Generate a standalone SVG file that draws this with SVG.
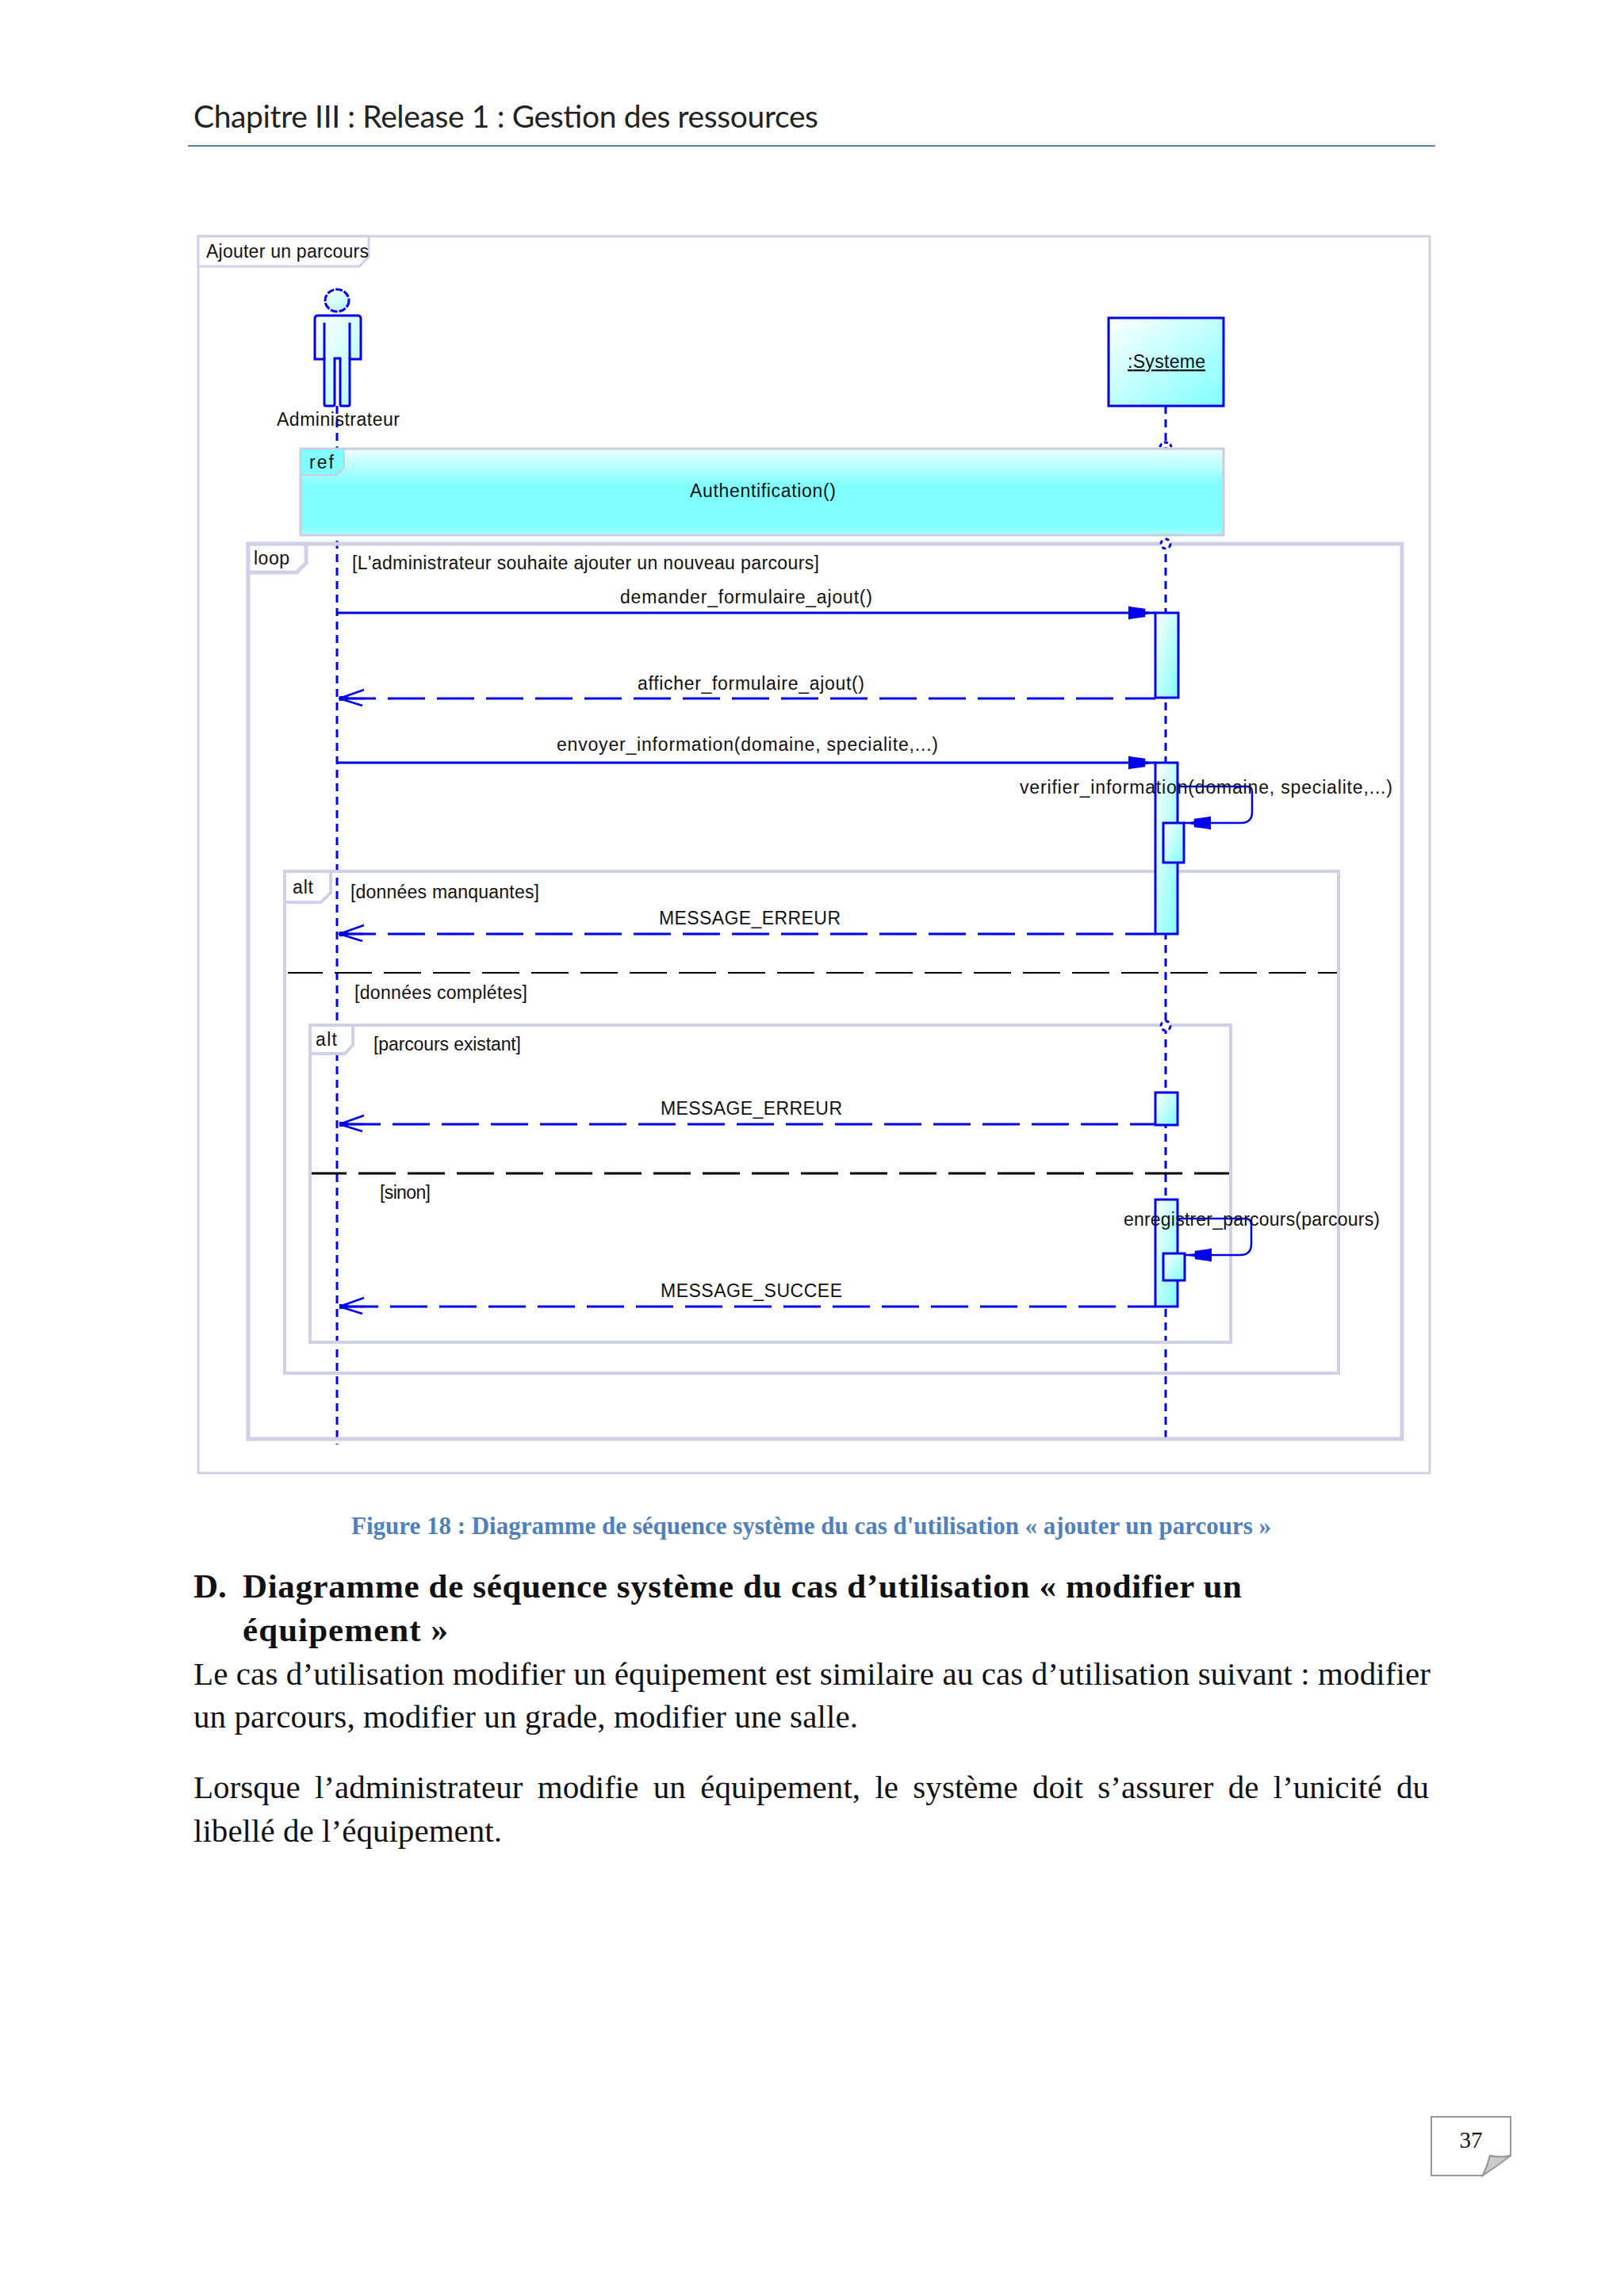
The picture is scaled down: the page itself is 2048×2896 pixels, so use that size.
<svg xmlns="http://www.w3.org/2000/svg" width="2048" height="2896" viewBox="0 0 2048 2896">
<style>
.t{font-family:"Liberation Sans",Arial,sans-serif;font-size:23px;fill:#111}
.fr{fill:none;stroke:#d0d0e8}
.tab{fill:#fff;stroke:#d0d0e8}
.ll{stroke:#0000ee;stroke-width:3;stroke-dasharray:10 7;fill:none}
.act{fill:url(#dg);stroke:#0000ee;stroke-width:3}
.msg{stroke:#0000ee;stroke-width:3;fill:none;marker-end:url(#fa)}
.ret{stroke:#0000ee;stroke-width:3;fill:none;stroke-dasharray:47 15;marker-start:url(#oa)}
.sep{stroke:#000;fill:none;stroke-dasharray:47 15}
.mark{fill:#fff;stroke:#0000ee;stroke-width:3;stroke-dasharray:5 4}
.body{font-family:"Liberation Serif","Times New Roman",serif;font-size:41px;fill:#111}
</style>
<defs>
<linearGradient id="dg" x1="0" y1="0" x2="1" y2="1"><stop offset="0" stop-color="#fff"/><stop offset="1" stop-color="#80ffff"/></linearGradient>
<linearGradient id="ag" x1="0" y1="0" x2="1" y2="1"><stop offset="0" stop-color="#fff"/><stop offset="1" stop-color="#b0ffff"/></linearGradient>
<linearGradient id="vg" x1="0" y1="0" x2="0" y2="1"><stop offset="0" stop-color="#f0ffff"/><stop offset=".42" stop-color="#80ffff"/><stop offset=".9" stop-color="#80ffff"/><stop offset="1" stop-color="#a8ffff"/></linearGradient>
<marker id="fa" markerUnits="userSpaceOnUse" markerWidth="34" markerHeight="18" viewBox="0 0 32 16" refX="32" refY="8" orient="auto"><path d="M0,0L4,1 20,3 20,6 32,8 20,10 20,13 4,15 0,16Z" fill="#0000ee"/></marker>
<marker id="oa" markerUnits="userSpaceOnUse" markerWidth="36" markerHeight="26" viewBox="0 -13 36 26" refX="0" refY="0" orient="auto"><path d="M1,0L32,-11M1,0L30,9M1,0H32" fill="none" stroke="#0000ee" stroke-width="2.5"/><path d="M1,-3H12V3H1Z" fill="#0000ee"/></marker>
</defs>
<rect width="2048" height="2896" fill="#fff"/>

<g id="header">
<text x="244" y="161" font-family="Lato,'Open Sans',sans-serif" font-size="39" fill="#222" textLength="788">Chapitre III : Release 1 : Gestion des ressources</text>
<line x1="237" y1="184" x2="1810" y2="184" stroke="#4f81bd" stroke-width="2"/>
</g>

<g id="frame">
<rect class="fr" x="250" y="298" width="1553" height="1560" stroke-width="3"/>
<path class="tab" stroke-width="3" d="M250,298H465V324L453,336H250Z"/>
<text class="t" x="260" y="325" textLength="205">Ajouter un parcours</text>
</g>

<g id="lifelines">
<line class="ll" x1="425" y1="512" x2="425" y2="1822"/>
<line class="ll" x1="1470" y1="512" x2="1470" y2="1820"/>
</g>

<g id="actor-administrateur">
<ellipse cx="425" cy="379" rx="15" ry="14" fill="url(#ag)" stroke="#0000ee" stroke-width="3" stroke-dasharray="9 2"/>
<path d="M401,398H451Q455,398 455,402V453H441V510Q441,512 439,512H430Q429,512 429,510V452H422V510Q422,512 420,512H411Q409,512 409,510V453H397V402Q397,398 401,398Z" fill="url(#ag)" stroke="#0000ee" stroke-width="3"/>
<path d="M409,407V453M441,407V453" fill="none" stroke="#0000ee" stroke-width="3"/>
<text class="t" x="349" y="537" textLength="155">Administrateur</text>
</g>

<g id="object-systeme">
<rect x="1398" y="401" width="145" height="111" fill="url(#dg)" stroke="#0000ee" stroke-width="3"/>
<text class="t" x="1422" y="464" textLength="98" text-decoration="underline">:Systeme</text>
</g>

<g id="frame-loop">
<rect class="fr" x="313" y="686" width="1455" height="1129" stroke-width="5"/>
<path class="tab" stroke-width="5" d="M313,686H386V710L374,722H313Z"/>
<text class="t" x="320" y="712" textLength="45">loop</text>
<text class="t" x="444" y="718" textLength="589">[L'administrateur souhaite ajouter un nouveau parcours]</text>
</g>

<g id="frame-alt-1">
<rect class="fr" x="359" y="1099" width="1329" height="633" stroke-width="4"/>
<path class="tab" stroke-width="4" d="M359,1099H417V1126L405,1138H359Z"/>
<text class="t" x="369" y="1127" textLength="26">alt</text>
<text class="t" x="442" y="1133" textLength="238">[données manquantes]</text>
<path class="sep" stroke-width="2" stroke-dashoffset="3" d="M363,1227H1686"/>
<text class="t" x="447" y="1260" textLength="218">[données complétes]</text>
</g>

<g id="frame-alt-2">
<rect class="fr" x="391" y="1293" width="1161" height="400" stroke-width="4"/>
<path class="tab" stroke-width="4" d="M391,1293H445V1318L435,1329H391Z"/>
<text class="t" x="398" y="1319" textLength="27">alt</text>
<text class="t" x="471" y="1325" textLength="186">[parcours existant]</text>
<path class="sep" stroke-width="3" stroke-dashoffset="3" d="M393,1480H1550"/>
<text class="t" x="479" y="1512" textLength="64">[sinon]</text>
</g>

<g id="ref-authentification">
<rect x="379" y="566" width="1164" height="109" fill="url(#vg)" stroke="#ccccdd" stroke-width="3"/>
<path d="M379,566H434V590L425,599H379Z" fill="#80ffff" stroke="#ccccdd" stroke-width="2"/>
<text class="t" x="390" y="591" textLength="31">ref</text>
<text class="t" x="870" y="627" textLength="184">Authentification()</text>
</g>

<g id="lifeline-marks">
<path d="M1463,564A7,6 0 0 1 1477,564" fill="#fff" stroke="#0000ee" stroke-width="3" stroke-dasharray="5 3"/>
<circle class="mark" cx="1470" cy="686" r="6"/>
<circle class="mark" cx="1470" cy="1100" r="7"/>
<circle class="mark" cx="1470" cy="1294" r="6"/>
</g>

<g id="activations">
<rect class="act" x="1457" y="773" width="29" height="107"/>
<rect class="act" x="1457" y="962" width="28" height="216"/>
<rect class="act" x="1467" y="1038" width="26" height="50"/>
<rect class="act" x="1457" y="1378" width="28" height="41"/>
<rect class="act" x="1457" y="1513" width="28" height="135"/>
<rect class="act" x="1467" y="1581" width="27" height="34"/>
</g>

<g id="connectors">
<path class="msg" d="M425,773H1457"/>
<path class="ret" d="M427,881H1457"/>
<path class="msg" d="M425,962H1457"/>
<path class="msg" style="stroke-width:2.5" d="M1485,992H1573Q1579,992 1579,1000V1024Q1579,1038 1565,1038H1493"/>
<path class="ret" d="M427,1178H1457"/>
<path class="ret" stroke-dashoffset="-6" d="M427,1418H1457"/>
<path class="msg" style="stroke-width:2.5" d="M1485,1537H1570Q1578,1537 1578,1545V1569Q1578,1583 1564,1583H1494"/>
<path class="ret" stroke-dashoffset="-3" d="M427,1648H1457"/>
</g>

<g id="message-labels">
<text class="t" x="782" y="761" textLength="318">demander_formulaire_ajout()</text>
<text class="t" x="804" y="870" textLength="286">afficher_formulaire_ajout()</text>
<text class="t" x="702" y="947" textLength="481">envoyer_information(domaine, specialite,...)</text>
<text class="t" x="1286" y="1001" textLength="470">verifier_information(domaine, specialite,...)</text>
<text class="t" x="831" y="1166" textLength="229">MESSAGE_ERREUR</text>
<text class="t" x="833" y="1406" textLength="229">MESSAGE_ERREUR</text>
<text class="t" x="1417" y="1546" textLength="323">enregistrer_parcours(parcours)</text>
<text class="t" x="833" y="1636" textLength="229">MESSAGE_SUCCEE</text>
</g>

<g id="page-text">
<text x="443" y="1935" font-family="'Liberation Serif',serif" font-weight="bold" font-size="31" fill="#4f81bd" textLength="1160">Figure 18 : Diagramme de séquence système du cas d'utilisation « ajouter un parcours »</text>
<text x="244" y="2015" font-family="'Liberation Serif',serif" font-weight="bold" font-size="43" fill="#111">D.</text>
<text x="306" y="2015" font-family="'Liberation Serif',serif" font-weight="bold" font-size="43" fill="#111" textLength="1260">Diagramme de séquence système du cas d’utilisation « modifier un</text>
<text x="306" y="2070" font-family="'Liberation Serif',serif" font-weight="bold" font-size="43" fill="#111" textLength="259">équipement »</text>
<text class="body" x="244" y="2125" textLength="1560">Le cas d’utilisation modifier un équipement est similaire au cas d’utilisation suivant : modifier</text>
<text class="body" x="244" y="2179" textLength="838">un parcours, modifier un grade, modifier une salle.</text>
<text class="body" x="244" y="2268" word-spacing="8" textLength="1558">Lorsque l’administrateur modifie un équipement, le système doit s’assurer de l’unicité du</text>
<text class="body" x="244" y="2323" textLength="389">libellé de l’équipement.</text>
</g>

<g id="page-number">
<path d="M1805,2670H1905V2719Q1892,2722 1879,2719Q1876,2732 1870,2744H1805Z" fill="#fff" stroke="#999" stroke-width="2"/>
<path d="M1870,2744Q1876,2732 1879,2719Q1892,2722 1905,2719Q1888,2732 1870,2744Z" fill="#ccc" stroke="#999" stroke-width="2"/>
<text x="1855" y="2709" text-anchor="middle" font-family="'Liberation Serif',serif" font-size="29" fill="#111">37</text>
</g>
</svg>
